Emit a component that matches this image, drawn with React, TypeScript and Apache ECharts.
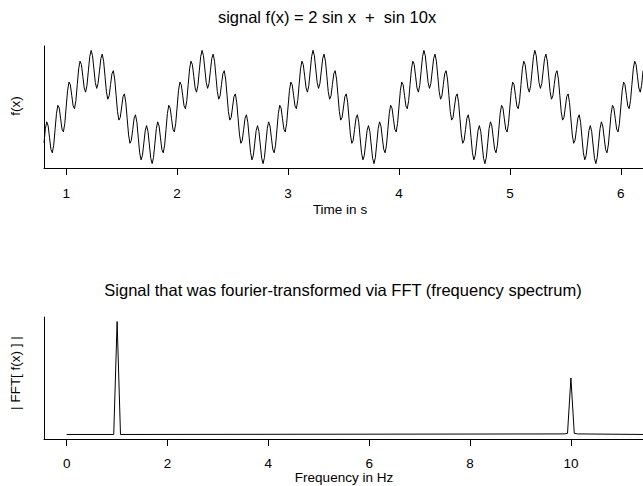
import React, { useEffect, useRef } from "react";
import * as echarts from "echarts";

// ---- texts ----
const TITLE_SIGNAL = "signal f(x) = 2 sin x  +  sin 10x";
const TITLE_FFT = "Signal that was fourier-transformed via FFT (frequency spectrum)";
const X_NAME_SIGNAL = "Time in s";
const Y_NAME_SIGNAL = "f(x)";
const X_NAME_FFT = "Frequency in Hz";
const Y_NAME_FFT = "| FFT[ f(x) ] |";

// ---- tick labels ----
const TIME_TICKS = [1, 2, 3, 4, 5, 6];
const FREQ_TICKS = [0, 2, 4, 6, 8, 10];

// ---- signal samples (time grid: start + i * step) ----
const SIGNAL_T0 = 0.8;
const SIGNAL_DT = 0.0125;
const SIGNAL_VALUES = [
  -1.90, -1.14, -0.78, -1.00, -1.62, -2.23, -2.41, -2.01, -1.18, -0.34, 0.09, -0.06, -0.62, -1.17, -1.31, -0.86,
  // 1.0 - 2.0
  0, 0.86, 1.31, 1.17, 0.62, 0.06, -0.09, 0.34, 1.18, 2.01, 2.41, 2.23, 1.62, 1.00, 0.78, 1.14,
  1.90, 2.65, 2.98, 2.70, 2.00, 1.29, 0.98, 1.24, 1.90, 2.55, 2.78, 2.41, 1.62, 0.81, 0.41, 0.59,
  1.18, 1.75, 1.91, 1.47, 0.62, -0.24, -0.69, -0.55, 0, 0.55, 0.69, 0.24, -0.62, -1.47, -1.91, -1.75,
  -1.18, -0.59, -0.41, -0.81, -1.62, -2.41, -2.78, -2.55, -1.90, -1.24, -0.98, -1.29, -2.00, -2.70, -2.98, -2.65,
  -1.90, -1.14, -0.78, -1.00, -1.62, -2.23, -2.41, -2.01, -1.18, -0.34, 0.09, -0.06, -0.62, -1.17, -1.31, -0.86,
  // 2.0 - 3.0
  0, 0.86, 1.31, 1.17, 0.62, 0.06, -0.09, 0.34, 1.18, 2.01, 2.41, 2.23, 1.62, 1.00, 0.78, 1.14,
  1.90, 2.65, 2.98, 2.70, 2.00, 1.29, 0.98, 1.24, 1.90, 2.55, 2.78, 2.41, 1.62, 0.81, 0.41, 0.59,
  1.18, 1.75, 1.91, 1.47, 0.62, -0.24, -0.69, -0.55, 0, 0.55, 0.69, 0.24, -0.62, -1.47, -1.91, -1.75,
  -1.18, -0.59, -0.41, -0.81, -1.62, -2.41, -2.78, -2.55, -1.90, -1.24, -0.98, -1.29, -2.00, -2.70, -2.98, -2.65,
  -1.90, -1.14, -0.78, -1.00, -1.62, -2.23, -2.41, -2.01, -1.18, -0.34, 0.09, -0.06, -0.62, -1.17, -1.31, -0.86,
  // 3.0 - 4.0
  0, 0.86, 1.31, 1.17, 0.62, 0.06, -0.09, 0.34, 1.18, 2.01, 2.41, 2.23, 1.62, 1.00, 0.78, 1.14,
  1.90, 2.65, 2.98, 2.70, 2.00, 1.29, 0.98, 1.24, 1.90, 2.55, 2.78, 2.41, 1.62, 0.81, 0.41, 0.59,
  1.18, 1.75, 1.91, 1.47, 0.62, -0.24, -0.69, -0.55, 0, 0.55, 0.69, 0.24, -0.62, -1.47, -1.91, -1.75,
  -1.18, -0.59, -0.41, -0.81, -1.62, -2.41, -2.78, -2.55, -1.90, -1.24, -0.98, -1.29, -2.00, -2.70, -2.98, -2.65,
  -1.90, -1.14, -0.78, -1.00, -1.62, -2.23, -2.41, -2.01, -1.18, -0.34, 0.09, -0.06, -0.62, -1.17, -1.31, -0.86,
  // 4.0 - 5.0
  0, 0.86, 1.31, 1.17, 0.62, 0.06, -0.09, 0.34, 1.18, 2.01, 2.41, 2.23, 1.62, 1.00, 0.78, 1.14,
  1.90, 2.65, 2.98, 2.70, 2.00, 1.29, 0.98, 1.24, 1.90, 2.55, 2.78, 2.41, 1.62, 0.81, 0.41, 0.59,
  1.18, 1.75, 1.91, 1.47, 0.62, -0.24, -0.69, -0.55, 0, 0.55, 0.69, 0.24, -0.62, -1.47, -1.91, -1.75,
  -1.18, -0.59, -0.41, -0.81, -1.62, -2.41, -2.78, -2.55, -1.90, -1.24, -0.98, -1.29, -2.00, -2.70, -2.98, -2.65,
  -1.90, -1.14, -0.78, -1.00, -1.62, -2.23, -2.41, -2.01, -1.18, -0.34, 0.09, -0.06, -0.62, -1.17, -1.31, -0.86,
  // 5.0 - 6.0
  0, 0.86, 1.31, 1.17, 0.62, 0.06, -0.09, 0.34, 1.18, 2.01, 2.41, 2.23, 1.62, 1.00, 0.78, 1.14,
  1.90, 2.65, 2.98, 2.70, 2.00, 1.29, 0.98, 1.24, 1.90, 2.55, 2.78, 2.41, 1.62, 0.81, 0.41, 0.59,
  1.18, 1.75, 1.91, 1.47, 0.62, -0.24, -0.69, -0.55, 0, 0.55, 0.69, 0.24, -0.62, -1.47, -1.91, -1.75,
  -1.18, -0.59, -0.41, -0.81, -1.62, -2.41, -2.78, -2.55, -1.90, -1.24, -0.98, -1.29, -2.00, -2.70, -2.98, -2.65,
  -1.90, -1.14, -0.78, -1.00, -1.62, -2.23, -2.41, -2.01, -1.18, -0.34, 0.09, -0.06, -0.62, -1.17, -1.31, -0.86,
  // 6.0 - 6.2
  0, 0.86, 1.31, 1.17, 0.62, 0.06, -0.09, 0.34, 1.18, 2.01, 2.41, 2.23, 1.62, 1.00, 0.78, 1.14, 1.90,
];

// ---- spectrum ----
const FFT_FREQ = [0, 0.933, 1.0, 1.067, 9.867, 9.933, 10.0, 10.067, 10.133, 11.5];
const FFT_MAG = [0, 0, 2.0, 0, 0.01, 0.02, 1.0, 0.02, 0.01, 0];

const FONT = "'Liberation Sans', Arial, Helvetica, sans-serif";

export default function App() {
  const ref = useRef<HTMLDivElement>(null);

  useEffect(() => {
    if (!ref.current) return;
    const chart = echarts.init(ref.current, null, { renderer: "svg" });

    const signalData = SIGNAL_VALUES.map((v, i) => [SIGNAL_T0 + i * SIGNAL_DT, v]);
    const fftData = FFT_FREQ.map((f, i) => [f, FFT_MAG[i]]);

    const lineStyle = { color: "#000", width: 1 };
    const labelStyle = { color: "#000", fontSize: 13.5, fontFamily: FONT };

    const makeX = (grid: number, min: number, max: number, ticks: number[], margin: number) => ({
      type: "value",
      gridIndex: grid,
      min,
      max,
      axisLine: { show: true, onZero: false, lineStyle },
      axisTick: { show: true, customValues: ticks, length: 7, inside: false, lineStyle },
      axisLabel: { show: true, customValues: ticks, margin, ...labelStyle },
      splitLine: { show: false },
    });

    const makeY = (grid: number, min: number, max: number) => ({
      type: "value",
      gridIndex: grid,
      min,
      max,
      axisLine: { show: true, onZero: false, lineStyle },
      axisTick: { show: false },
      axisLabel: { show: false },
      splitLine: { show: false },
    });

    const text = (
      str: string,
      x: number,
      y: number,
      size: number,
      rotation = 0
    ) => ({
      type: "text",
      x,
      y,
      rotation,
      silent: true,
      style: {
        text: str,
        fill: "#000",
        font: `${size}px ${FONT}`,
        align: "center",
        verticalAlign: "middle",
        textAlign: "center",
        textVerticalAlign: "middle",
      },
    });

    chart.setOption({
      animation: false,
      backgroundColor: "#ffffff",
      grid: [
        { left: 44, right: 0, top: 46, height: 122 },
        { left: 44, right: 0, top: 317, height: 122 },
      ],
      xAxis: [
        makeX(0, 0.8, 6.2, TIME_TICKS, 18),
        makeX(1, -0.45, 11.43, FREQ_TICKS, 17),
      ],
      yAxis: [makeY(0, -3.21, 3.21), makeY(1, -0.08, 2.08)],
      series: [
        {
          type: "line",
          xAxisIndex: 0,
          yAxisIndex: 0,
          data: signalData,
          showSymbol: false,
          symbol: "none",
          lineStyle: { color: "#000", width: 1 },
          clip: true,
        },
        {
          type: "line",
          xAxisIndex: 1,
          yAxisIndex: 1,
          data: fftData,
          showSymbol: false,
          symbol: "none",
          lineStyle: { color: "#000", width: 1 },
          clip: true,
        },
      ],
      graphic: [
        text(TITLE_SIGNAL, 327, 17, 16.5),
        text(TITLE_FFT, 343, 290, 16.5),
        text(X_NAME_SIGNAL, 340, 209, 13.5),
        text(X_NAME_FFT, 344, 477, 13.5),
        text(Y_NAME_SIGNAL, 15, 106, 13.5, Math.PI / 2),
        text(Y_NAME_FFT, 15, 373, 13.5, Math.PI / 2),
      ],
    });

    return () => chart.dispose();
  }, []);

  return (
    <div
      ref={ref}
      style={{ position: "fixed", left: 0, top: 0, width: 643, height: 486, background: "#fff" }}
    />
  );
}
